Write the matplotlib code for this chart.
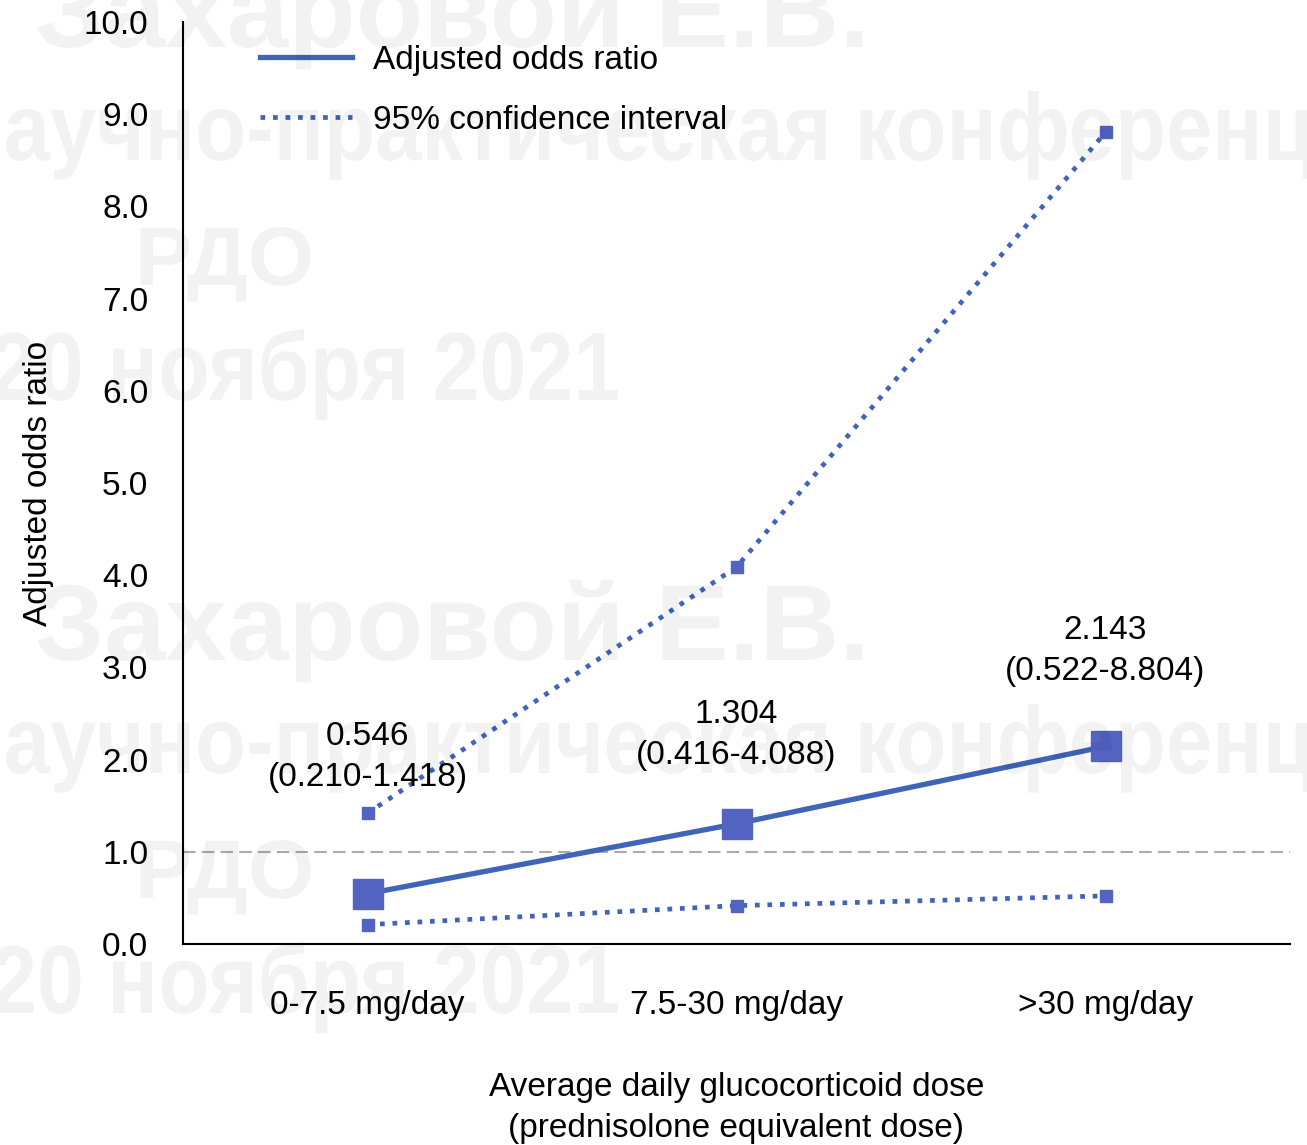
import numpy as np
import matplotlib
matplotlib.use('Agg')
import matplotlib.pyplot as plt
from matplotlib.textpath import TextPath
from matplotlib.patches import PathPatch
from matplotlib.transforms import Affine2D
from matplotlib.font_manager import FontProperties

plt.rcParams['font.family'] = ['Liberation Sans', 'DejaVu Sans']

# %% data
categories = ['0-7.5 mg/day', '7.5-30 mg/day', '>30 mg/day']
odds_ratio = [0.546, 1.304, 2.143]
ci_lower   = [0.210, 0.416, 0.522]
ci_upper   = [1.418, 4.088, 8.804]
yticks     = np.arange(0, 10.5, 1.0)

line_col   = '#3f64b8'
marker_col = '#5363c2'
fs = 24
W, H = 1307, 1145

fig = plt.figure(figsize=(W/100, H/100), dpi=100)
ax = fig.add_axes([183/W, 1-944/H, (1290-183)/W, (944-22)/H])
x = np.arange(len(categories))

# reference line at OR = 1
ax.axhline(1.0, color='#ababab', linestyle=(0, (6, 3)), linewidth=1.5, zorder=1, clip_on=False)

# lines (legend) and markers separately
ax.plot(x, odds_ratio, '-', color=line_col, linewidth=3.8, label='Adjusted odds ratio', zorder=4)
ax.plot(x, ci_upper, ':', color=line_col, linewidth=3.4, label='95% confidence interval', zorder=3)
ax.plot(x, ci_lower, ':', color=line_col, linewidth=3.4, zorder=3)
ax.plot(x, odds_ratio, 's', mfc=marker_col, mec=marker_col, markersize=21, zorder=5)
ax.plot(x, ci_upper, 's', mfc=marker_col, mec=marker_col, markersize=8.5, zorder=5)
ax.plot(x, ci_lower, 's', mfc=marker_col, mec=marker_col, markersize=8.5, zorder=5)

# value labels
label_y = [2.03, 2.27, 3.18]
for i in range(len(x)):
    ax.text(x[i], label_y[i], '%.3f\n(%.3f-%.3f)' % (odds_ratio[i], ci_lower[i], ci_upper[i]),
            ha='center', va='center', fontsize=fs, linespacing=1.40)

ax.set_xlim(-0.5, 2.5)
ax.set_ylim(0, 10)
ax.set_xticks(x)
ax.set_xticklabels(categories, fontsize=fs)
ax.set_yticks(yticks)
ax.set_yticklabels(['%.1f' % v for v in yticks], fontsize=fs)
ax.tick_params(axis='y', length=0, pad=25)
ax.tick_params(axis='x', length=0, pad=33)
for s in ['top', 'right']:
    ax.spines[s].set_visible(False)
ax.spines['left'].set_linewidth(1.5)
ax.spines['bottom'].set_linewidth(1.5)
ax.set_ylabel('Adjusted odds ratio', fontsize=fs, labelpad=21)
ax.set_xlabel('Average daily glucocorticoid dose\n(prednisolone equivalent dose)',
              fontsize=fs, labelpad=37, linespacing=1.42)

ax.legend(loc='upper left', bbox_to_anchor=(0.0696, 0.975), frameon=False,
          fontsize=fs, handlelength=2.76, handletextpad=0.63, labelspacing=0.87,
          borderpad=0, borderaxespad=0)

# %% faint watermark (text, left px, baseline px, width px, em height px)
wm_prop = FontProperties(family='Liberation Sans', weight='bold')
wm = [('Захаровой Е.В.', 35, 47, 825, 108),
      ('научно-практическая конференция', None, 160, None, 95),
      ('РДО', 135, 285, 170, 83),
      ('20 ноября 2021', -10, 400, 625, 97)]
for off in [0, 613]:
    for txt, px, py, wpx, em in wm:
        tp = TextPath((0, 0), txt, size=100, prop=wm_prop)
        if px is None:
            # only "аучно-практическая конференц" is seen, spanning the whole width
            w_n = TextPath((0, 0), 'н', size=100, prop=wm_prop).get_extents().width
            w_mid = TextPath((0, 0), 'аучно-практическая конференц', size=100,
                             prop=wm_prop).get_extents().width
            sx = W / w_mid
            px0 = -w_n * sx - 8
        else:
            sx = wpx / tp.get_extents().width
            px0 = px
        sy = em / 100.
        patch = PathPatch(tp, transform=Affine2D().scale(sx, sy).translate(px0, H - (py + off)),
                          facecolor='black', edgecolor='none', alpha=0.05, zorder=10)
        fig.add_artist(patch)

fig.savefig('out.png', dpi=100)
